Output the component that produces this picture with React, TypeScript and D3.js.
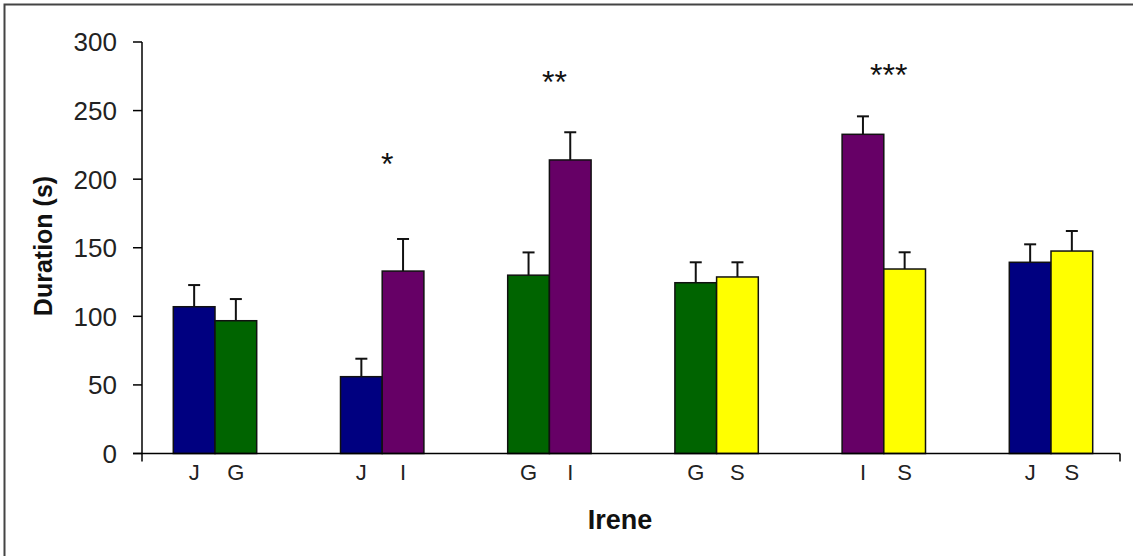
import React from "react";
import * as d3 from "d3";

// pairs shown under each group
const groups = ["JG", "JI", "GI", "GS", "IS", "JS"];
const leftLabels = ["J", "J", "G", "G", "I", "J"];
const rightLabels = ["G", "I", "I", "S", "S", "S"];
const leftValues = [107, 56, 130, 124.5, 232.7, 139.4];
const rightValues = [96.8, 133, 214, 128.7, 134.5, 147.6];
const leftErrors = [15.8, 13.1, 16.6, 14.9, 13.1, 13.1];
const rightErrors = [15.8, 23.4, 20.2, 10.7, 12.2, 14.6];
// significance marks: group, text, height (in s)
const starGroups = ["JI", "GI", "IS"];
const starTexts = ["*", "**", "***"];
const starValues = [215.8, 276, 281.4];
const yTicks = [0, 50, 100, 150, 200, 250, 300];

const colors: Record<string, string> = {
  J: "#000080",
  G: "#006400",
  I: "#660066",
  S: "#FFFF00",
};

const W = 1133;
const H = 556;
const font = "'Liberation Sans', Arial, Helvetica, sans-serif";

export default function App() {
  const y = d3.scaleLinear().domain([0, 300]).range([453.5, 42]);
  const x = d3.scalePoint<string>().domain(groups).range([215, 1051]);
  const side = d3.scaleBand<string>().domain(["L", "R"]).range([-41.7, 41.7]).padding(0);

  const axisLeft = 142;
  const axisRight = 1120;
  const y0 = y(0);

  const bars = groups.flatMap((g, i) => [
    { g, pos: "L", label: leftLabels[i], value: leftValues[i], err: leftErrors[i] },
    { g, pos: "R", label: rightLabels[i], value: rightValues[i], err: rightErrors[i] },
  ]);

  return (
    <svg
      width={W}
      height={H}
      style={{ position: "fixed", left: 0, top: 0, background: "#fff", fontFamily: font }}
    >
      <rect x={0} y={0} width={W} height={H} fill="#fff" />
      {/* chart frame (right/bottom edges fall outside picture) */}
      <rect x={4.5} y={4.5} width={W + 20} height={H + 20} fill="none" stroke="#444" strokeWidth={2} />

      {/* y axis */}
      <line x1={axisLeft} x2={axisLeft} y1={y(300)} y2={y0 + 8} stroke="#000" strokeWidth={1.5} />
      {yTicks.map((t) => (
        <g key={t}>
          <line x1={axisLeft - 9} x2={axisLeft} y1={y(t)} y2={y(t)} stroke="#000" strokeWidth={1.5} />
          <text x={117} y={y(t)} dy="0.36em" textAnchor="end" fontSize={26} fill="#222">
            {t}
          </text>
        </g>
      ))}

      {/* bars */}
      {bars.map((b, i) => {
        const bx = (x(b.g) as number) + (side(b.pos) as number);
        const bw = side.bandwidth();
        const cx = bx + bw / 2;
        return (
          <g key={i}>
            <line x1={cx} x2={cx} y1={y(b.value)} y2={y(b.value + b.err)} stroke="#111" strokeWidth={2} />
            <line x1={cx - 6} x2={cx + 6} y1={y(b.value + b.err)} y2={y(b.value + b.err)} stroke="#111" strokeWidth={2} />
            <rect
              x={bx}
              y={y(b.value)}
              width={bw}
              height={y0 - y(b.value)}
              fill={colors[b.label]}
              stroke="#111"
              strokeWidth={1.5}
            />
            <text x={cx} y={480} textAnchor="middle" fontSize={22} fill="#222">
              {b.label}
            </text>
          </g>
        );
      })}

      {/* x axis */}
      <line x1={axisLeft - 9} x2={axisRight} y1={y0} y2={y0} stroke="#000" strokeWidth={1.5} />
      <line x1={axisRight} x2={axisRight} y1={y0} y2={y0 + 8} stroke="#000" strokeWidth={1.5} />

      {/* significance stars */}
      {starGroups.map((g, i) => (
        <text
          key={g}
          x={(x(g) as number) + 5}
          y={y(starValues[i]) + 18}
          textAnchor="middle"
          fontSize={32}
          fill="#111"
        >
          {starTexts[i]}
        </text>
      ))}

      {/* axis titles */}
      <text x={620} y={529} textAnchor="middle" fontSize={27} fontWeight="bold" fill="#111">
        Irene
      </text>
      <text
        transform={`translate(51.5, 246) rotate(-90)`}
        textAnchor="middle"
        fontSize={25}
        fontWeight="bold"
        fill="#111"
      >
        Duration (s)
      </text>
    </svg>
  );
}
